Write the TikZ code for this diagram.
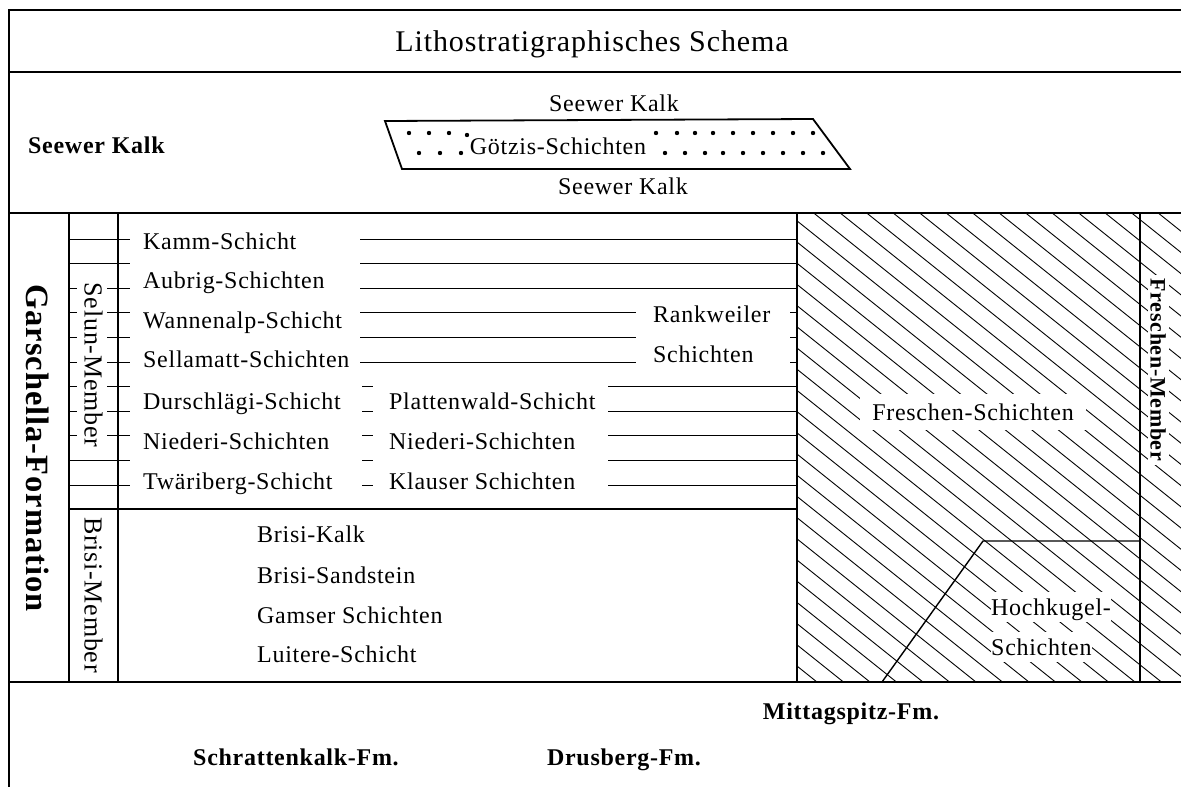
\documentclass[tikz,border=0pt]{standalone}
\usepackage{fontspec}
\setmainfont{Liberation Serif}
\newfontfamily\regf[LetterSpace=3]{Liberation Serif}
\newfontfamily\bldf[LetterSpace=3]{Liberation Serif}
\begin{document}
\begin{tikzpicture}[x=1pt,y=-1pt,
  frame/.style={line width=2pt, line cap=rect},
  rule/.style={line width=1pt},
  vrule/.style={line width=1.4pt},
  hatchline/.style={line width=0.9pt},
  lbl/.style={inner sep=0pt, anchor=west, text height=16pt, text depth=0pt, font=\regf\fontsize{24}{27}\selectfont},
  clbl/.style={lbl, anchor=center},
  boldlbl/.style={inner sep=0pt, anchor=center, text height=16pt, text depth=0pt, font=\bldf\bfseries\fontsize{24}{28}\selectfont},
  knock/.style={fill=white, inner xsep=7pt, inner ysep=7pt},
  dot/.style={fill=black}]
\useasboundingbox (0,0) rectangle (1181,787);

% hatching of Freschen area
\begin{scope}
  \clip (797,213) rectangle (1181,682);
  \foreach \i in {-24,...,15}
    \draw[hatchline] ({813.7+26.5*\i},213) -- ++(600,480);
\end{scope}

% frame
\draw[frame] (9,787) -- (9,10) -- (1181,10);
\draw[frame] (9,72) -- (1181,72);
\draw[frame] (9,213) -- (1181,213);
\draw[frame] (9,682) -- (1181,682);

% verticals in Garschella part
\draw[vrule] (69,213) -- (69,682);
\draw[vrule] (118,213) -- (118,682);
\draw[vrule] (797,213) -- (797,682);
\draw[vrule] (1140,213) -- (1140,682);
\draw[vrule] (69,509) -- (797,509);

% member column lines
\foreach \k in {1,2,10,11}
  \draw[rule] (69,{214.5+24.6*\k}) -- (130,{214.5+24.6*\k});
\foreach \k in {3,...,9}{
  \draw[rule] (69,{214.5+24.6*\k}) -- (77,{214.5+24.6*\k});
  \draw[rule] (107,{214.5+24.6*\k}) -- (130,{214.5+24.6*\k});
}
% text column lines
\foreach \k in {1,2,3}
  \draw[rule] (360,{214.5+24.6*\k}) -- (797,{214.5+24.6*\k});
\foreach \k in {4,5,6}{
  \draw[rule] (360,{214.5+24.6*\k}) -- (636,{214.5+24.6*\k});
  \draw[rule] (790,{214.5+24.6*\k}) -- (797,{214.5+24.6*\k});
}
\foreach \k in {7,...,11}{
  \draw[rule] (362,{214.5+24.6*\k}) -- (373,{214.5+24.6*\k});
  \draw[rule] (608,{214.5+24.6*\k}) -- (797,{214.5+24.6*\k});
}

% Hochkugel boundary
\draw[vrule] (882,682) -- (983,541) -- (1140,541);

% title
\node[clbl, font=\regf\fontsize{30}{34}\selectfont, text height=20pt] (title) at (592,41) {Lithostratigraphisches Schema};

% Seewer Kalk row
\node[boldlbl, anchor=west] (sk) at (28,145) {Seewer Kalk};
\node[clbl] (skup) at (614,103) {Seewer Kalk};
\node[clbl] (sklo) at (623,186) {Seewer Kalk};
\draw[line width=1.8pt, line join=miter] (385,121) -- (813,119) -- (850,169) -- (402,169) -- cycle;
\node[clbl] (goetz) at (558,146) {Götzis-Schichten};
\foreach \x in {409,429,449,656,677,695,713,733,753,773,793,813}
  \fill[dot] (\x,133) circle[radius=2.2pt];
\fill[dot] (467,135) circle[radius=2.2pt];
\foreach \x in {419,440,461,665,685,705,723,743,763,783,803,823}
  \fill[dot] (\x,153) circle[radius=2.2pt];

% rotated labels
\node[boldlbl, rotate=-90, font=\bldf\bfseries\fontsize{32.5}{36}\selectfont, text height=22pt] (gars) at (38,448) {Garschella-Formation};
\node[clbl, rotate=-90, font=\regf\fontsize{26}{29}\selectfont, text height=17pt] (selun) at (93,365) {Selun-Member};
\node[clbl, rotate=-90, font=\regf\fontsize{26}{29}\selectfont, text height=17pt] (brisim) at (93,595) {Brisi-Member};

% Selun layers
\node[lbl] (kamm) at (143,241) {Kamm-Schicht};
\node[lbl] (aubr) at (143,280) {Aubrig-Schichten};
\node[lbl] (wann) at (143,320) {Wannenalp-Schicht};
\node[lbl] (sell) at (143,359) {Sellamatt-Schichten};
\node[lbl] (durs) at (143,401) {Durschlägi-Schicht};
\node[lbl] (nied) at (143,441) {Niederi-Schichten};
\node[lbl] (twae) at (143,481) {Twäriberg-Schicht};
\node[lbl] (platt) at (389,401) {Plattenwald-Schicht};
\node[lbl] (nied2) at (389,441) {Niederi-Schichten};
\node[lbl] (klaus) at (389,481) {Klauser Schichten};
\node[lbl] (rank) at (653,314) {Rankweiler};
\node[lbl] (rank2) at (653,354) {Schichten};

% Brisi layers
\node[lbl] (bkalk) at (257,534) {Brisi-Kalk};
\node[lbl] (bsand) at (257,575) {Brisi-Sandstein};
\node[lbl] (gams) at (257,615) {Gamser Schichten};
\node[lbl] (luit) at (257,654) {Luitere-Schicht};

% Freschen
\node[clbl, knock, inner xsep=12pt, inner ysep=10pt] (fresch) at (973,412) {Freschen-Schichten};
\node[lbl, knock, anchor=west, inner xsep=0pt] (hoch) at (991,607) {Hochkugel-};
\node[lbl, knock, anchor=west, inner xsep=0pt] (hoch2) at (991,647) {Schichten};
\node[boldlbl, rotate=-90, knock, inner xsep=4pt, inner ysep=3pt, font=\bldf\bfseries\fontsize{22}{25}\selectfont, text height=15pt] (fmem) at (1158,370) {Freschen-Member};

% bottom row
\node[boldlbl] (mitt) at (851,711) {Mittagspitz-Fm.};
\node[boldlbl] (schr) at (296,757) {Schrattenkalk-Fm.};
\node[boldlbl] (drus) at (624,757) {Drusberg-Fm.};
\end{tikzpicture}
\end{document}
